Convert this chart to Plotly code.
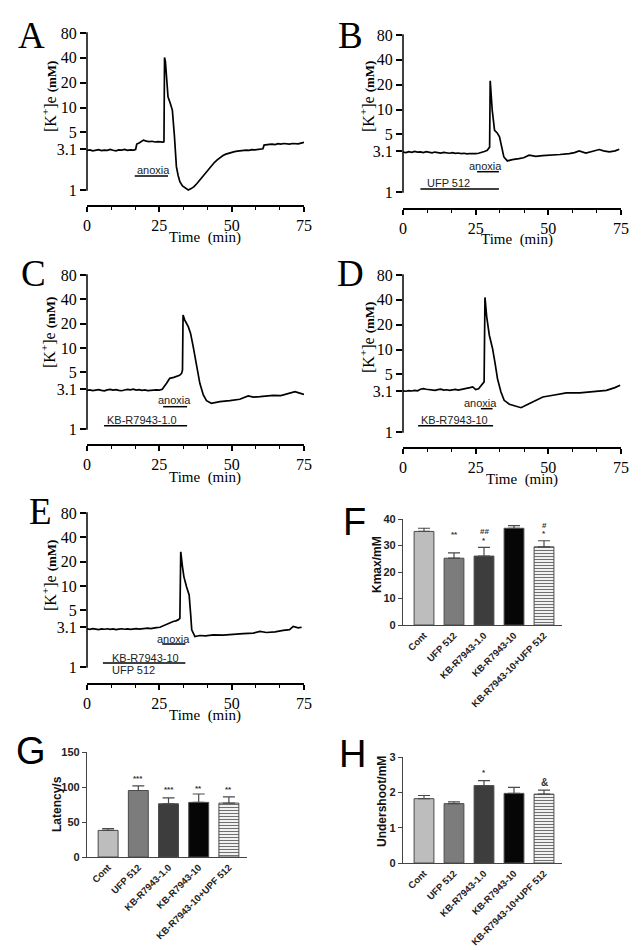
import math
import plotly.graph_objects as go

# ---------------- data ----------------
A_t = [0,1,2,3,4,5,6,7,8,9,10,11,12,13,14,15,16,16.8,17.2,18,19,19.5,20.5,21.5,22.5,23.5,24.5,25.5,
       26.3,26.6,26.8,27.1,27.5,28.0,28.8,29.5,30.2,30.9,31.5,32.1,33.0,34.0,35.0,
       36,37,38,39,40,41,42,43,44,45,46,47,48,49,50,51,52,53,54,55,56,57,58,59,60,60.8,61.2,
       62,63,64,65,66,67,68,69,70,71,72,73,74,75]
A_k = [3.02,3.06,2.98,3.04,3.08,3.0,3.05,3.02,3.1,3.03,2.99,3.06,3.04,3.1,3.02,3.07,3.05,3.1,3.6,3.72,3.9,
       4.02,3.92,3.86,3.9,3.82,3.85,3.78,
       3.8,3.85,40.5,36,22,13.5,11.2,9.3,4.6,1.92,1.5,1.26,1.12,1.05,1.0,
       1.04,1.1,1.2,1.32,1.45,1.6,1.78,1.98,2.15,2.32,2.48,2.62,2.72,2.8,2.86,2.92,2.96,3.0,2.98,3.04,
       3.02,3.08,3.06,3.1,3.14,3.16,3.5,
       3.55,3.58,3.6,3.56,3.64,3.6,3.66,3.62,3.6,3.66,3.64,3.62,3.7,3.78]

B_t = list(range(0, 29)) + [29.0,29.8,30.0,30.7,31.5,32.4,33.2,33.9,34.7,35.9,37.6,39.9,41.5,43.4,45.7,48,
                            51.4,54,57.2,59,60.6,62.9,65,67.5,69,71,73,74.4]
B_k = [3.05,3.0,3.08,3.02,3.1,3.04,3.06,3.0,3.08,3.03,2.98,3.05,3.0,2.96,3.02,2.98,2.95,3.0,2.94,2.97,
       2.92,2.95,2.9,2.93,2.9,2.92,2.95,3.0,3.1,
       3.2,3.5,22.3,9.8,5.6,5.2,4.66,3.52,2.66,2.38,2.47,2.54,2.6,2.79,2.71,2.76,
       2.79,2.85,2.92,3.0,3.15,2.97,3.1,3.27,3.15,3.06,3.15,3.3]

C_t = list(range(0, 27)) + [27.5,28.6,30.0,30.9,32.0,32.7,33.0,33.2,33.8,35.0,35.8,36.7,37.8,39.0,40.2,41.3,
                            43.0,45.9,49.4,52.8,55.7,57.5,59.8,62,64.4,67,69,71.9,73.5,75]
C_k = [3.0,3.05,2.98,3.02,3.06,3.0,2.96,3.04,3.08,3.02,3.06,3.0,2.97,3.03,3.08,3.04,3.1,3.02,3.06,3.0,
       3.04,2.98,3.02,3.0,3.04,3.02,3.09,
       3.67,4.23,4.35,4.43,4.6,4.87,5.35,25.6,22.2,18.4,15.2,10.4,6.17,3.67,2.63,2.24,
       2.08,2.18,2.24,2.33,2.56,2.48,2.51,2.55,2.61,2.58,2.71,2.89,2.78,2.68]

D_t = list(range(0, 28)) + [27.9,28.2,28.8,29.7,30.8,31.7,32.5,33.7,34.8,36.6,38.9,40.6,42.3,44.7,48.1,51.6,
                            56.2,60.8,65.4,70,72.9,74.7]
D_k = [3.15,3.12,3.18,3.14,3.2,3.16,3.3,3.36,3.3,3.28,3.24,3.2,3.26,3.3,3.22,3.25,3.2,3.24,3.28,3.22,
       3.26,3.3,3.35,3.45,3.52,3.27,3.35,3.68,
       4.05,42.8,24.9,14.9,10.3,6.76,4.44,3.06,2.42,2.17,2.05,1.97,2.11,2.31,2.66,2.79,
       2.98,2.98,3.06,3.2,3.45,3.68]

E_t = list(range(0, 25)) + [25.2,26.5,27.5,28.6,29.8,30.7,31.5,32.1,32.4,33.0,33.5,34.4,35.3,35.8,36.2,37.3,
                            39.0,41,43.6,47,50.5,54,57.5,59.8,62,65,67.8,70,71.3,73,74.2]
E_k = [2.96,2.92,2.98,2.94,2.9,2.96,2.93,2.97,2.92,2.95,2.9,2.94,2.97,2.93,2.96,2.92,2.95,2.98,2.94,2.97,
       3.0,3.02,2.98,3.04,3.06,
       3.1,3.25,3.41,3.55,3.65,3.72,3.82,4.0,26.5,17.3,13.0,9.84,7.77,4.62,2.88,2.38,
       2.45,2.42,2.5,2.48,2.55,2.58,2.62,2.75,2.67,2.72,2.83,2.9,3.17,3.05,3.1]

k_ticks = [1, 3.1, 5, 10, 20, 40, 80]
k_ticktext = ["1", "3.1", "5", "10", "20", "40", "80"]

# drug application periods (label, start min, end min)
A_periods = [("anoxia", 16.5, 28.0)]
B_periods = [("anoxia", 25.5, 33.0), ("UFP 512", 6.0, 33.0)]
C_periods = [("anoxia", 26.3, 34.6), ("KB-R7943-1.0", 5.9, 34.6)]
D_periods = [("anoxia", 26.8, 30.8), ("KB-R7943-10", 5.2, 31.0)]
E_periods = [("anoxia", 26.0, 34.0), ("KB-R7943-10", 5.5, 34.0)]
E_extra_label = "UFP 512"

cats_F = ["Cont", "UFP 512", "KB-R7943-1.0", "KB-R7943-10", "KB-R7943-10+UFP 512"]
cats_GH = ["Cont", "UFP 512", "KB-R7943-1.0", "KB-R7943-10", "KB-R7943-10+UPF 512"]
kmax = [35.3, 25.2, 26.0, 36.5, 29.5]
kmax_err = [1.2, 2.0, 3.3, 1.0, 2.3]
latency = [38, 95, 76, 78, 77]
latency_err = [2.5, 6.5, 8.5, 12, 9]
undershoot = [1.82, 1.68, 2.19, 1.97, 1.95]
undershoot_err = [0.09, 0.05, 0.14, 0.17, 0.11]

F_sig = [("**", 1, 34.0), ("##", 2, 35.2), ("*", 2, 31.8), ("#", 4, 37.7), ("*", 4, 34.6)]
G_sig = [("***", 1, 112), ("***", 2, 96), ("**", 3, 98), ("**", 4, 96)]
H_sig = [("*", 2, 2.56), ("&", 4, 2.27)]

# ---------------- layout helpers ----------------
# the page body has an 8 px margin, so the figure is sized to fill the rest of the window
OFF = 8
W, H = 642 - OFF, 950 - OFF
def PX(x): return (x - OFF) / W
def PY(y): return 1 - (y - OFF) / H

fig = go.Figure()
layout = {}
annotations = []
shapes = []

SERIF = "Liberation Serif"
SANS = "Liberation Sans"

def axname(i, a):
    return f"{a}axis" if i == 1 else f"{a}axis{i}"

def ref(i, a):
    return a if i == 1 else f"{a}{i}"

trace_panels = [
    # idx, t, k, periods, x0, x1, y80, y1, xline, letter, letter pos, ytitle x, ytitle y, time title x, time title y
    (1, A_t, A_k, A_periods, 87, 304, 33, 190, 205, "A", (31, 36), 49, 97, 205, 237),
    (2, B_t, B_k, B_periods, 403, 621, 35, 192, 208, "B", (350, 36), 367, 97, 517, 240),
    (3, C_t, C_k, C_periods, 87, 304, 275, 429, 444, "C", (33, 273), 48, 333, 205, 477),
    (4, D_t, D_k, D_periods, 403, 621, 275, 432, 447, "D", (350, 273), 367, 338, 522, 479),
    (5, E_t, E_k, E_periods, 87, 304, 513, 667, 683, "E", (40, 511), 49, 576, 205, 715),
]

# positions of period labels/bars per panel: list of (text_x_min, text_y_px, line_y_px)
period_pos = {
    1: [(16.5, 170, 176)],
    2: [(22.0, 166, 171.7), (7.5, 182.7, 189)],
    3: [(24.0, 400, 406.7), (6.1, 420, 425.7)],
    4: [(20.2, 403.3, 408.7), (5.4, 420, 425.7)],
    5: [(23.4, 639, 644), (7.8, 658.3, 663)],
}

for (i, t, k, periods, x0, x1, y80, y1, xline, letter, lpos, ytx, yty, ttx, tty) in trace_panels:
    fig.add_trace(go.Scatter(x=t, y=k, mode="lines", line=dict(color="black", width=1.7),
                             xaxis=ref(i, "x"), yaxis=ref(i, "y"), showlegend=False,
                             hoverinfo="skip"))
    # the y domain reaches down to the (offset) x axis; the visible y line stops at 1 mM
    per_dec = (y1 - y80) / math.log10(80)
    ymin_log = -(xline - y1) / per_dec
    layout[axname(i, "x")] = dict(
        domain=[PX(x0), PX(x1)], range=[0, 75], anchor=ref(i, "y"),
        showline=True, linecolor="black", linewidth=1.5, ticks="outside", ticklen=5,
        tickwidth=1.5, tickcolor="black", tickmode="linear", tick0=0, dtick=25,
        minor=dict(tickmode="linear", tick0=0, dtick=25 / 3, ticks="outside", ticklen=3,
                   tickwidth=1, tickcolor="black", showgrid=False),
        tickfont=dict(family=SERIF, size=16, color="black"),
        showgrid=False, zeroline=False, fixedrange=True, automargin=False)
    layout[axname(i, "y")] = dict(
        type="log", domain=[PY(xline), PY(y80)], range=[ymin_log, math.log10(80)],
        anchor=ref(i, "x"), showline=False, ticks="outside", ticklen=6,
        tickwidth=1.5, tickcolor="black", tickmode="array", tickvals=k_ticks,
        ticktext=k_ticktext, tickfont=dict(family=SERIF, size=16, color="black"),
        showgrid=False, zeroline=False, fixedrange=True, automargin=False)
    # visible y axis line (1 .. 80 mM only) and the x axis line
    shapes.append(dict(type="line", xref="paper", yref="paper", x0=PX(x0), x1=PX(x0),
                       y0=PY(y1 + 0.75), y1=PY(y80 - 0.75), line=dict(color="black", width=1.5)))
    shapes.append(dict(type="line", xref="paper", yref="paper", x0=PX(x0), x1=PX(x1),
                       y0=PY(xline + 0.75), y1=PY(xline + 0.75),
                       line=dict(color="black", width=1.5)))
    # panel letter
    annotations.append(dict(text=letter, x=PX(lpos[0]), y=PY(lpos[1]), xref="paper", yref="paper",
                            showarrow=False, font=dict(family=SERIF, size=37, color="black"),
                            xanchor="center", yanchor="middle"))
    # y title
    annotations.append(dict(
        text="[K<sup>+</sup>]e <span style='font-size:13px;font-weight:bold'>(mM)</span>",
        x=PX(ytx), y=PY(yty), xref="paper", yref="paper", textangle=-90, showarrow=False,
        font=dict(family=SERIF, size=16, color="black"), xanchor="center", yanchor="middle"))
    # time title
    annotations.append(dict(text="Time\u00a0\u00a0(min)", x=PX(ttx), y=PY(tty), xref="paper",
                            yref="paper", showarrow=False,
                            font=dict(family=SERIF, size=15, color="black"),
                            xanchor="center", yanchor="middle"))
    # periods
    for (label, s, e), (tx, ty, ly) in zip(periods, period_pos[i]):
        shapes.append(dict(type="line", xref=ref(i, "x"), yref="paper", x0=s, x1=e,
                           y0=PY(ly), y1=PY(ly), line=dict(color="black", width=1.5)))
        annotations.append(dict(text=label, x=tx, y=PY(ty), xref=ref(i, "x"), yref="paper",
                                showarrow=False, xanchor="left", yanchor="middle",
                                font=dict(family=SANS, size=11, color="#222")))
    if i == 5:
        annotations.append(dict(text=E_extra_label, x=7.8, y=PY(670), xref="x5", yref="paper",
                                showarrow=False, xanchor="left", yanchor="middle",
                                font=dict(family=SANS, size=11, color="#222")))

bar_colors = ["#bdbdbd", "#7c7c7c", "#3d3d3d", "#060606", "#ffffff"]

bar_panels = [
    (6, cats_F, kmax, kmax_err, F_sig, 403, 562, 519, 625, [0, 40], [0, 10, 20, 30, 40],
     "Kmax/mM", 377, 565, "F", (354, 522)),
    (7, cats_GH, latency, latency_err, G_sig, 87, 247, 752, 857, [0, 150], [0, 50, 100, 150],
     "Latency/s", 57, 804, "G", (31, 751)),
    (8, cats_GH, undershoot, undershoot_err, H_sig, 403, 562, 757, 863, [0, 3], [0, 1, 2, 3],
     "Undershoot/mM", 382, 802, "H", (352, 754)),
]

for (i, cats, vals, errs, sig, x0, x1, ytop, ybot, yr, yt, ytitle, ytx, yty, letter, lpos) in bar_panels:
    # solid bars
    fig.add_trace(go.Bar(
        x=cats[:4], y=vals[:4], width=0.66,
        marker=dict(color=bar_colors[:4], line=dict(color="#4a4a4a", width=1)),
        error_y=dict(type="data", array=errs[:4], arrayminus=[0] * 4, symmetric=False,
                     color="#4a4a4a", thickness=1.2, width=6),
        xaxis=ref(i, "x"), yaxis=ref(i, "y"), showlegend=False, hoverinfo="skip"))
    # striped bar (combination)
    fig.add_trace(go.Bar(
        x=cats[4:], y=vals[4:], width=0.66,
        marker=dict(color="#ffffff", line=dict(color="#4a4a4a", width=1),
                    pattern=dict(shape="-", fgcolor="#707070", bgcolor="#ffffff",
                                 size=3, solidity=0.4)),
        error_y=dict(type="data", array=errs[4:], arrayminus=[0], symmetric=False,
                     color="#4a4a4a", thickness=1.2, width=6),
        xaxis=ref(i, "x"), yaxis=ref(i, "y"), showlegend=False, hoverinfo="skip"))
    layout[axname(i, "x")] = dict(
        domain=[PX(x0), PX(x1)], type="category", categoryorder="array", categoryarray=cats,
        range=[-0.7, 4.6], anchor=ref(i, "y"),
        showline=True, linecolor="#444", linewidth=1.3, ticks="", tickangle=-45,
        tickfont=dict(family=SANS, size=9.5, color="#222", weight="bold"),
        showgrid=False, zeroline=False, fixedrange=True, automargin=False)
    layout[axname(i, "y")] = dict(
        domain=[PY(ybot), PY(ytop)], range=yr, anchor=ref(i, "x"), tickmode="array",
        tickvals=yt, showline=True, linecolor="#444", linewidth=1.3, ticks="outside",
        ticklen=4, tickwidth=1.3, tickcolor="#444",
        tickfont=dict(family=SANS, size=11, color="#222", weight="bold"),
        showgrid=False, zeroline=False, fixedrange=True, automargin=False)
    annotations.append(dict(text=letter, x=PX(lpos[0]), y=PY(lpos[1]), xref="paper", yref="paper",
                            showarrow=False, font=dict(family=SANS, size=38, color="black"),
                            xanchor="center", yanchor="middle"))
    annotations.append(dict(text="<b>" + ytitle + "</b>", x=PX(ytx), y=PY(yty), xref="paper",
                            yref="paper", textangle=-90, showarrow=False,
                            font=dict(family=SANS, size=12, color="#111"),
                            xanchor="center", yanchor="middle"))
    for (s, ci, yv) in sig:
        annotations.append(dict(text="<b>" + s + "</b>", x=cats[ci], y=yv, xref=ref(i, "x"),
                                yref=ref(i, "y"), showarrow=False, xanchor="center",
                                yanchor="middle",
                                font=dict(family=SANS, size=10 if s == "&" else 8, color="#333")))

fig.update_layout(
    template="none",
    width=W, height=H, margin=dict(l=0, r=0, t=0, b=0, autoexpand=False),
    paper_bgcolor="white", plot_bgcolor="white", barmode="overlay",
    annotations=annotations, shapes=shapes, showlegend=False,
    **layout)

fig.write_html("out.html")
